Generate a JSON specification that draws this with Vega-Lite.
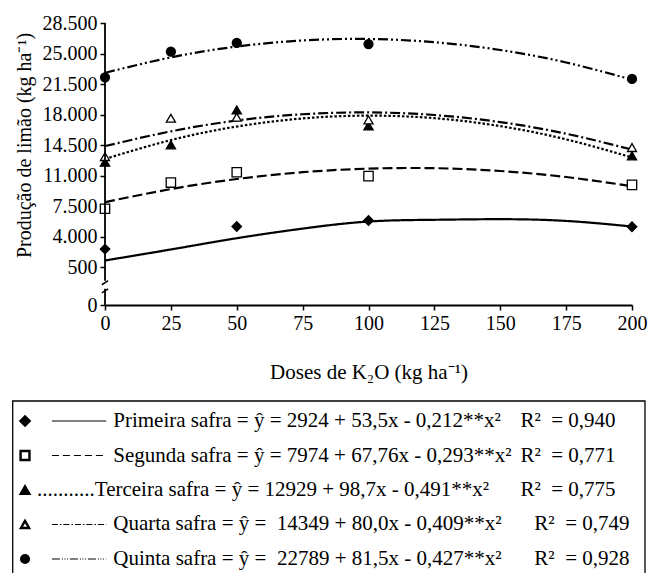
{
  "$schema": "https://vega.github.io/schema/vega-lite/v6.json",
  "padding": {"left": 12, "top": 13, "right": 5, "bottom": 0},
  "background": "white",
  "spacing": 18,
  "config": {
    "font": "Liberation Serif",
    "view": {"stroke": null},
    "axis": {
      "labelFont": "Liberation Serif", "titleFont": "Liberation Serif",
      "labelColor": "black", "titleColor": "black",
      "domainColor": "black", "tickColor": "black",
      "labelFontSize": 20, "titleFontSize": 20, "titleFontWeight": "normal",
      "grid": false, "domainWidth": 1.8, "tickWidth": 1.5, "tickSize": 5,
      "labelFlush": false, "labelOverlap": false
    }
  },
  "resolve": {"scale": {"strokeDash": "independent", "size": "independent", "x": "independent", "y": "independent"}},
  "datasets": {
    "curvas": [
      {"serie": "Primeira", "dose": 0, "prod": 1300},
      {"serie": "Primeira", "dose": 25, "prod": 2560},
      {"serie": "Primeira", "dose": 50, "prod": 3850},
      {"serie": "Primeira", "dose": 75, "prod": 4950},
      {"serie": "Primeira", "dose": 100, "prod": 5760},
      {"serie": "Primeira", "dose": 125, "prod": 5960},
      {"serie": "Primeira", "dose": 150, "prod": 6030},
      {"serie": "Primeira", "dose": 175, "prod": 5830},
      {"serie": "Primeira", "dose": 200, "prod": 5190},
      {"serie": "Segunda", "dose": 0, "prod": 7980},
      {"serie": "Segunda", "dose": 25, "prod": 9480},
      {"serie": "Segunda", "dose": 50, "prod": 10630},
      {"serie": "Segunda", "dose": 75, "prod": 11410},
      {"serie": "Segunda", "dose": 100, "prod": 11820},
      {"serie": "Segunda", "dose": 125, "prod": 11870},
      {"serie": "Segunda", "dose": 150, "prod": 11550},
      {"serie": "Segunda", "dose": 175, "prod": 10860},
      {"serie": "Segunda", "dose": 200, "prod": 9810},
      {"serie": "Terceira", "dose": 0, "prod": 12930},
      {"serie": "Terceira", "dose": 25, "prod": 15090},
      {"serie": "Terceira", "dose": 50, "prod": 16640},
      {"serie": "Terceira", "dose": 75, "prod": 17570},
      {"serie": "Terceira", "dose": 100, "prod": 17890},
      {"serie": "Terceira", "dose": 125, "prod": 17600},
      {"serie": "Terceira", "dose": 150, "prod": 16690},
      {"serie": "Terceira", "dose": 175, "prod": 15170},
      {"serie": "Terceira", "dose": 200, "prod": 13100},
      {"serie": "Quarta", "dose": 0, "prod": 14400},
      {"serie": "Quarta", "dose": 25, "prod": 16090},
      {"serie": "Quarta", "dose": 50, "prod": 17330},
      {"serie": "Quarta", "dose": 75, "prod": 18050},
      {"serie": "Quarta", "dose": 100, "prod": 18260},
      {"serie": "Quarta", "dose": 125, "prod": 17960},
      {"serie": "Quarta", "dose": 150, "prod": 17150},
      {"serie": "Quarta", "dose": 175, "prod": 15820},
      {"serie": "Quarta", "dose": 200, "prod": 14000},
      {"serie": "Quinta", "dose": 0, "prod": 22790},
      {"serie": "Quinta", "dose": 25, "prod": 24560},
      {"serie": "Quinta", "dose": 50, "prod": 25800},
      {"serie": "Quinta", "dose": 75, "prod": 26500},
      {"serie": "Quinta", "dose": 100, "prod": 26670},
      {"serie": "Quinta", "dose": 125, "prod": 26300},
      {"serie": "Quinta", "dose": 150, "prod": 25410},
      {"serie": "Quinta", "dose": 175, "prod": 23980},
      {"serie": "Quinta", "dose": 200, "prod": 22010}
    ],
    "obs": [
      {"serie": "Primeira", "dose": 0, "prod": 2600},
      {"serie": "Primeira", "dose": 50, "prod": 5190},
      {"serie": "Primeira", "dose": 100, "prod": 5880},
      {"serie": "Primeira", "dose": 200, "prod": 5160},
      {"serie": "Segunda", "dose": 0, "prod": 7220},
      {"serie": "Segunda", "dose": 25, "prod": 10220},
      {"serie": "Segunda", "dose": 50, "prod": 11410},
      {"serie": "Segunda", "dose": 100, "prod": 10960},
      {"serie": "Segunda", "dose": 200, "prod": 9960},
      {"serie": "Terceira", "dose": 0, "prod": 12560},
      {"serie": "Terceira", "dose": 25, "prod": 14540},
      {"serie": "Terceira", "dose": 50, "prod": 18540},
      {"serie": "Terceira", "dose": 100, "prod": 16710},
      {"serie": "Terceira", "dose": 200, "prod": 13280},
      {"serie": "Quarta", "dose": 0, "prod": 13200},
      {"serie": "Quarta", "dose": 25, "prod": 17590},
      {"serie": "Quarta", "dose": 50, "prod": 17700},
      {"serie": "Quarta", "dose": 100, "prod": 17400},
      {"serie": "Quarta", "dose": 200, "prod": 14230},
      {"serie": "Quinta", "dose": 0, "prod": 22280},
      {"serie": "Quinta", "dose": 25, "prod": 25210},
      {"serie": "Quinta", "dose": 50, "prod": 26210},
      {"serie": "Quinta", "dose": 100, "prod": 26090},
      {"serie": "Quinta", "dose": 200, "prod": 22090}
    ],
    "leg": [
      {"serie": "Primeira", "row": 1, "eq": "Primeira safra = ŷ = 2924 + 53,5x - 0,212**x²", "r2": "R²\u00a0 = 0,940"},
      {"serie": "Segunda", "row": 2, "eq": "Segunda safra = ŷ = 7974 + 67,76x - 0,293**x²", "r2": "R²\u00a0 = 0,771"},
      {"serie": "Terceira", "row": 3, "eq": "...........Terceira safra = ŷ = 12929 + 98,7x - 0,491**x²", "r2": "R²\u00a0 = 0,775"},
      {"serie": "Quarta", "row": 4, "eq": "Quarta safra = ŷ =\u00a0 14349 + 80,0x - 0,409**x²", "r2": "R²\u00a0 = 0,749"},
      {"serie": "Quinta", "row": 5, "eq": "Quinta safra = ŷ =\u00a0 22789 + 81,5x - 0,427**x²", "r2": "R²\u00a0 = 0,928"}
    ]
  },
  "vconcat": [
    {
      "width": 527,
      "height": 282,
      "layer": [
        {
          "data": {"name": "curvas"},
          "mark": {"type": "line", "interpolate": "natural", "strokeWidth": 2.2, "color": "black"},
          "encoding": {
            "x": {"field": "dose", "type": "quantitative",
                  "scale": {"domain": [0, 200], "nice": false, "zero": false},
                  "axis": {"title": "Doses de K₂O (kg ha⁻¹)", "values": [0, 25, 50, 75, 100, 125, 150, 175, 200],
                           "tickCount": 20, "labelPadding": 3, "titlePadding": 28, "titleFontSize": 21,
                           "labelOverlap": false, "labelFlush": false}},
            "y": {"field": "prod", "type": "quantitative",
                  "scale": {"domain": [-3800, 28500], "nice": false, "zero": false},
                  "axis": {"title": "Produção de limão (kg ha⁻¹)",
                           "values": [-3800, 500, 4000, 7500, 11000, 14500, 18000, 21500, 25000, 28500],
                           "tickCount": 20,
                           "labelExpr": "datum.value < 0 ? '0' : replace(format(datum.value, ','), ',', '.')",
                           "labelOverlap": false, "labelFlush": false,
                           "domain": false, "labelPadding": 3, "titlePadding": 8, "titleY": 122}},
            "strokeDash": {"field": "serie", "type": "nominal",
                           "scale": {"domain": ["Primeira", "Segunda", "Terceira", "Quarta", "Quinta"],
                                     "range": [[1, 0], [10, 4], [2.5, 2], [10, 3, 2, 3], [10, 3, 2, 3, 2, 3]]},
                           "legend": null}
          }
        },
        {
          "data": {"name": "obs"},
          "mark": {"type": "point", "filled": true, "stroke": "black", "strokeWidth": 1.3, "opacity": 1},
          "encoding": {
            "x": {"field": "dose", "type": "quantitative"},
            "y": {"field": "prod", "type": "quantitative"},
            "shape": {"field": "serie", "type": "nominal",
                      "scale": {"domain": ["Primeira", "Segunda", "Terceira", "Quarta", "Quinta"],
                                "range": ["diamond", "square", "triangle-up", "triangle-up", "circle"]},
                      "legend": null},
            "fill": {"field": "serie", "type": "nominal",
                     "scale": {"domain": ["Primeira", "Segunda", "Terceira", "Quarta", "Quinta"],
                               "range": ["black", "white", "black", "white", "black"]},
                     "legend": null},
            "size": {"field": "serie", "type": "nominal",
                     "scale": {"domain": ["Primeira", "Segunda", "Terceira", "Quarta", "Quinta"],
                               "range": [90, 80, 80, 80, 115]},
                     "legend": null}
          }
        },
        {
          "data": {"values": [{}]},
          "mark": {"type": "rule", "strokeWidth": 1.8, "color": "black"},
          "encoding": {"x": {"datum": 0, "type": "quantitative"}, "y": {"datum": -1020, "type": "quantitative"}, "y2": {"datum": 28500}}
        },
        {
          "data": {"values": [{}]},
          "mark": {"type": "rule", "strokeWidth": 1.8, "color": "black"},
          "encoding": {"x": {"datum": 0, "type": "quantitative"}, "y": {"datum": -3800, "type": "quantitative"}, "y2": {"datum": -1940}}
        },
        {
          "data": {"values": [{}]},
          "mark": {"type": "rule", "strokeWidth": 1.5, "color": "black"},
          "encoding": {"x": {"datum": -1.2, "type": "quantitative"}, "x2": {"datum": 1.2}, "y": {"datum": -1480, "type": "quantitative"}, "y2": {"datum": -1020}}
        },
        {
          "data": {"values": [{}]},
          "mark": {"type": "rule", "strokeWidth": 1.5, "color": "black"},
          "encoding": {"x": {"datum": -1.2, "type": "quantitative"}, "x2": {"datum": 1.2}, "y": {"datum": -2400, "type": "quantitative"}, "y2": {"datum": -1940}}
        }
      ]
    },
    {
      "width": 540,
      "height": 178,
      "data": {"name": "leg"},
      "encoding": {
        "y": {"field": "row", "type": "quantitative",
              "scale": {"domain": [0.42, 5.58], "reverse": true, "nice": false, "zero": false},
              "axis": null}
      },
      "layer": [
        {
          "transform": [{"filter": "datum.row == 1"}],
          "mark": {"type": "rect", "filled": false, "stroke": "black", "strokeWidth": 1.3},
          "encoding": {
            "x": {"datum": 0, "type": "quantitative", "scale": {"domain": [0, 100], "range": [-92.3, 540], "nice": false, "zero": false}, "axis": null},
            "x2": {"datum": 100},
            "y": {"datum": 0.42, "type": "quantitative"},
            "y2": {"datum": 5.7}
          }
        },
        {
          "mark": {"type": "point", "filled": true, "stroke": "black", "strokeWidth": 2.4, "opacity": 1},
          "encoding": {
            "x": {"datum": 1.95, "type": "quantitative"},
            "shape": {"field": "serie", "type": "nominal", "legend": null},
            "fill": {"field": "serie", "type": "nominal", "legend": null},
            "size": {"field": "serie", "type": "nominal",
                     "scale": {"domain": ["Primeira", "Segunda", "Terceira", "Quarta", "Quinta"],
                               "range": [85, 60, 80, 55, 95]},
                     "legend": null}
          }
        },
        {
          "transform": [{"filter": "datum.serie != 'Terceira'"}],
          "mark": {"type": "rule", "strokeWidth": 1.2, "color": "black"},
          "encoding": {
            "x": {"datum": 6.2, "type": "quantitative"},
            "x2": {"datum": 14.8},
            "strokeDash": {"field": "serie", "type": "nominal",
                           "scale": {"domain": ["Primeira", "Segunda", "Quarta", "Quinta"],
                                     "range": [[1, 0], [7, 4], [6, 2, 1.5, 2], [8, 2, 1, 1.5, 1, 1.5, 1, 2]]},
                           "legend": null}
          }
        },
        {
          "transform": [{"filter": "datum.serie != 'Terceira'"}],
          "mark": {"type": "text", "align": "left", "baseline": "middle", "fontSize": 21, "font": "Liberation Serif", "color": "black"},
          "encoding": {"x": {"datum": 15.9, "type": "quantitative"}, "text": {"field": "eq"}}
        },
        {
          "transform": [{"filter": "datum.serie == 'Terceira'"}],
          "mark": {"type": "text", "align": "left", "baseline": "middle", "fontSize": 21, "font": "Liberation Serif", "color": "black"},
          "encoding": {"x": {"datum": 3.85, "type": "quantitative"}, "text": {"field": "eq"}}
        },
        {
          "transform": [{"filter": "datum.row <= 3"}],
          "mark": {"type": "text", "align": "left", "baseline": "middle", "fontSize": 21, "font": "Liberation Serif", "color": "black"},
          "encoding": {"x": {"datum": 80.3, "type": "quantitative"}, "text": {"field": "r2"}}
        },
        {
          "transform": [{"filter": "datum.row > 3"}],
          "mark": {"type": "text", "align": "left", "baseline": "middle", "fontSize": 21, "font": "Liberation Serif", "color": "black"},
          "encoding": {"x": {"datum": 82.5, "type": "quantitative"}, "text": {"field": "r2"}}
        }
      ]
    }
  ]
}
